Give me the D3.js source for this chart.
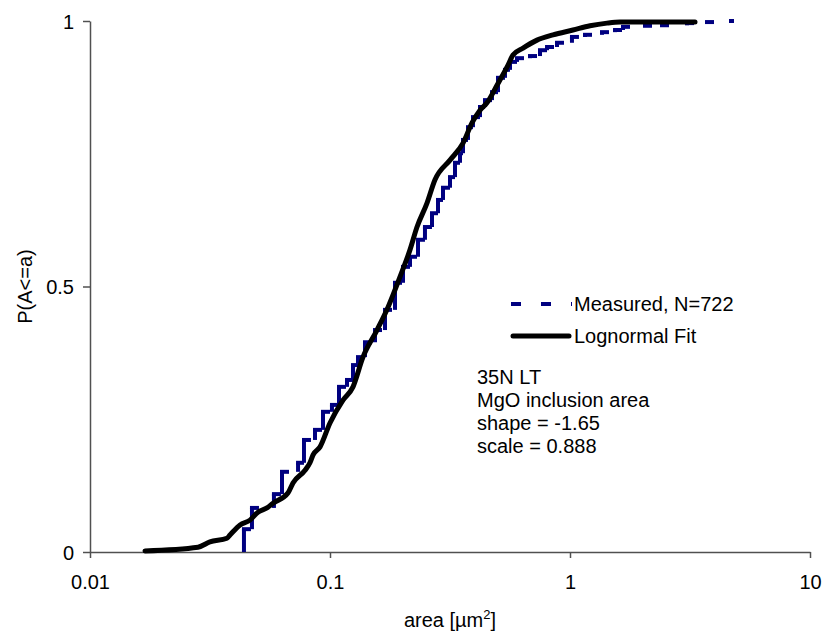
<!DOCTYPE html>
<html>
<head>
<meta charset="utf-8">
<script src="https://cdn.jsdelivr.net/npm/d3@7/dist/d3.min.js"></script>
<style>
  html, body { margin: 0; padding: 0; background: #fff; }
  svg { display: block; font-family: "Liberation Sans", Arial, sans-serif; }
</style>
</head>
<body>
<svg id="chart" width="825" height="635"></svg>
<script>
// ---------------- data ----------------
const xTicks = [0.01, 0.1, 1, 10];
const xTickLabels = ["0.01", "0.1", "1", "10"];
const yTicks = [0, 0.5, 1];
const yTickLabels = ["0", "0.5", "1"];

// Measured empirical CDF (step positions and cumulative probability after each step)
const measArea = [0.0438, 0.0473, 0.0584, 0.0631, 0.0736, 0.0779, 0.0866, 0.0935, 0.1019, 0.109,
  0.1177, 0.1247, 0.1308, 0.1399, 0.154, 0.1695, 0.1866, 0.2015, 0.2154, 0.2326,
  0.2487, 0.2661, 0.2818, 0.2957, 0.3162, 0.3318, 0.3481, 0.3583, 0.3758, 0.3942,
  0.4217, 0.4424, 0.4732, 0.5012, 0.5361, 0.5623, 0.6015, 0.6813, 0.7499, 0.8022,
  0.8826, 1.019, 1.155, 1.359, 1.540, 1.663, 2.054, 2.417, 3.073, 3.723, 4.687, 4.824];
const measP = [0.043, 0.083, 0.109, 0.151, 0.168, 0.211, 0.230, 0.264, 0.277, 0.311,
  0.324, 0.352, 0.367, 0.395, 0.418, 0.456, 0.507, 0.537, 0.556, 0.588,
  0.612, 0.638, 0.663, 0.686, 0.706, 0.733, 0.751, 0.776, 0.800, 0.819,
  0.838, 0.851, 0.866, 0.893, 0.908, 0.923, 0.930, 0.934, 0.945, 0.951,
  0.959, 0.970, 0.974, 0.979, 0.983, 0.989, 0.991, 0.992, 0.996, 0.998, 1.000, 1.000];

// Lognormal fit curve
const fitArea = [0.01695, 0.0282, 0.0316, 0.0372, 0.0383, 0.0422, 0.0464, 0.0501, 0.0546, 0.0579,
  0.0668, 0.0701, 0.0787, 0.0825, 0.0850, 0.0909, 0.1, 0.1133, 0.1247, 0.1372,
  0.1570, 0.1745, 0.1957, 0.2154, 0.2304, 0.2536, 0.2738, 0.3162, 0.3583, 0.3905,
  0.4217, 0.4510, 0.4964, 0.5518, 0.5786, 0.6371, 0.7286, 0.8498, 1.029, 1.212,
  1.426, 1.616, 3.318];
const fitP = [0.002, 0.009, 0.019, 0.026, 0.032, 0.051, 0.060, 0.075, 0.083, 0.092,
  0.111, 0.130, 0.154, 0.168, 0.183, 0.198, 0.243, 0.286, 0.311, 0.367,
  0.418, 0.461, 0.518, 0.569, 0.612, 0.657, 0.701, 0.738, 0.770, 0.808,
  0.832, 0.846, 0.879, 0.917, 0.936, 0.949, 0.964, 0.974, 0.983, 0.991,
  0.996, 0.998, 0.998];

const seriesNames = ["Measured, N=722", "Lognormal Fit"];
const annotationLines = ["35N LT", "MgO inclusion area", "shape = -1.65", "scale = 0.888"];

// ---------------- chart ----------------
const svg = d3.select("#chart");
const FONT = 20;
const axisColor = "#505050";
const navy = "#000080";

const x = d3.scaleLog().domain([0.01, 10]).range([90, 810]);
const y = d3.scaleLinear().domain([0, 1]).range([552, 21]);

// Axes
const gx = svg.append("g").attr("transform", `translate(0,${y(0)})`)
  .call(d3.axisBottom(x).tickValues(xTicks).tickFormat((d, i) => xTickLabels[i]).tickSize(6).tickSizeOuter(0));
const gy = svg.append("g").attr("transform", `translate(${x(0.01)},0)`)
  .call(d3.axisLeft(y).tickValues(yTicks).tickFormat((d, i) => yTickLabels[i]).tickSize(7).tickSizeOuter(0));

[gx, gy].forEach(g => {
  g.select(".domain").attr("stroke", axisColor).attr("stroke-width", 1.5);
  g.selectAll(".tick line").attr("stroke", axisColor).attr("stroke-width", 1.5);
  g.selectAll(".tick text").attr("fill", "#000").style("font-size", FONT + "px")
    .style("font-family", '"Liberation Sans", Arial, sans-serif');
});
gx.selectAll(".tick text").attr("y", 23).attr("dy", "0.71em");
gy.selectAll(".tick text").attr("x", -16).attr("dy", "0.35em");

// Axis titles
const xt = svg.append("text").attr("x", (x(0.01) + x(10)) / 2).attr("y", 627)
  .attr("text-anchor", "middle").style("font-size", FONT + "px");
xt.append("tspan").text("area [µm");
xt.append("tspan").text("2").style("font-size", "13px").attr("dy", -8);
xt.append("tspan").text("]").attr("dy", 8);

svg.append("text").attr("transform", `translate(32,${y(0.5)}) rotate(-90)`)
  .attr("text-anchor", "middle").style("font-size", FONT + "px").text("P(A<=a)");

// Measured series: risers solid, treads dashed (pattern restarts on each step)
const steps = measArea.map((a, i) => ({
  a, p: measP[i], prevP: i === 0 ? 0 : measP[i - 1], nextA: i < measArea.length - 1 ? measArea[i + 1] : a
}));
const gm = svg.append("g").attr("stroke", navy).attr("stroke-width", 4).attr("fill", "none");
gm.selectAll("line.riser").data(steps).join("line").attr("class", "riser")
  .attr("x1", d => x(d.a)).attr("x2", d => x(d.a))
  .attr("y1", d => y(d.prevP)).attr("y2", d => y(d.p));
gm.selectAll("line.tread").data(steps.filter(d => d.nextA > d.a)).join("line").attr("class", "tread")
  .attr("x1", d => x(d.a) - 2).attr("x2", d => x(d.nextA))
  .attr("y1", d => y(d.p)).attr("y2", d => y(d.p))
  .attr("stroke-dasharray", "9,21");

// Fit line
const fitData = fitArea.map((a, i) => [a, fitP[i]]);
svg.append("path").datum(fitData)
  .attr("fill", "none").attr("stroke", "#000").attr("stroke-width", 5)
  .attr("stroke-linejoin", "round").attr("stroke-linecap", "round")
  .attr("d", d3.line().curve(d3.curveMonotoneX).x(d => x(d[0])).y(d => y(d[1])));

// Legend
const leg = svg.append("g");
leg.append("line").attr("x1", 511).attr("x2", 572).attr("y1", 304).attr("y2", 304)
  .attr("stroke", navy).attr("stroke-width", 4).attr("stroke-dasharray", "10,20");
leg.append("line").attr("x1", 513).attr("x2", 569).attr("y1", 336).attr("y2", 336)
  .attr("stroke", "#000").attr("stroke-width", 5).attr("stroke-linecap", "round");
leg.selectAll("text").data(seriesNames).join("text")
  .attr("x", 574).attr("y", (d, i) => 311 + i * 32)
  .style("font-size", FONT + "px").text(d => d);

// Annotation
svg.append("g").selectAll("text").data(annotationLines).join("text")
  .attr("x", 477).attr("y", (d, i) => 384 + i * 23)
  .style("font-size", FONT + "px").text(d => d);
</script>
</body>
</html>
